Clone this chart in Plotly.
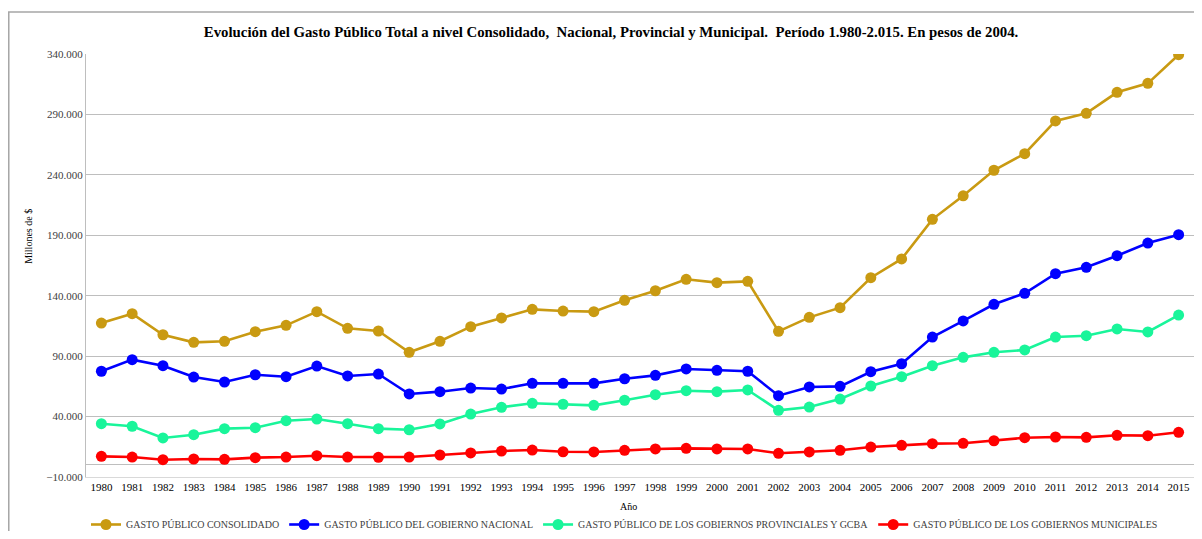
import plotly.graph_objects as go

# Años
Years = list(range(1980, 2016))

# Millones de $ (pesos de 2004)
Consolidado = [117400, 125100, 107700, 101400, 102300, 110200, 115500, 126800, 113000, 110800,
               93200, 102300, 114400, 121600, 128700, 127300, 126800, 136200, 144100, 153600,
               150800, 151900, 110500, 122100, 130100, 154900, 170400, 203200, 222700, 243800,
               257500, 284600, 290900, 308300, 315700, 339400]
Nacional = [77500, 87100, 82100, 72700, 68600, 74600, 73000, 81800, 73600, 75200,
            58700, 60600, 63600, 62800, 67500, 67500, 67500, 71300, 74100, 79400,
            78300, 77500, 57300, 64500, 65000, 77100, 83700, 105800, 119100, 132900,
            142000, 158200, 163500, 173100, 183600, 190500]
Provincial = [34100, 32000, 22300, 25000, 30000, 30800, 36600, 38000, 34100, 30000,
              29100, 33900, 42100, 47700, 51000, 50200, 49300, 53500, 58100, 61400,
              60600, 62000, 45200, 47900, 54500, 65300, 73000, 82100, 89000, 93200,
              95100, 105800, 106900, 112500, 110000, 124000]
Municipal = [7100, 6500, 4300, 4900, 4600, 6000, 6500, 7600, 6500, 6300,
             6500, 8200, 9900, 11500, 12300, 10900, 10700, 12100, 13200, 13700,
             13200, 13200, 9600, 10700, 12100, 14800, 16200, 17600, 17900, 20000,
             22500, 23100, 22800, 24500, 24200, 27000]

Names = ['GASTO PÚBLICO CONSOLIDADO',
         'GASTO PÚBLICO DEL GOBIERNO NACIONAL',
         'GASTO PÚBLICO DE LOS GOBIERNOS PROVINCIALES Y GCBA',
         'GASTO PÚBLICO DE LOS GOBIERNOS MUNICIPALES']
Colors = ['#C99A12', '#0000FF', '#19F59A', '#FF0000']

SERIF = 'Liberation Serif, Times New Roman, serif'

fig = go.Figure()
for vals, name, col in zip([Consolidado, Nacional, Provincial, Municipal], Names, Colors):
    fig.add_trace(go.Scatter(
        x=Years, y=vals, name=name, mode='lines+markers',
        line=dict(color=col, width=2.6),
        marker=dict(color=col, size=11)
    ))

# page body has an 8px margin, so the figure is sized to fit the window
fig.update_layout(
    width=1186, height=523,
    margin=dict(l=78, r=0, t=46, b=54, autoexpand=False),
    paper_bgcolor='white', plot_bgcolor='white',
    separators=',.',
    font=dict(family=SERIF, size=11, color='black'),
    title=dict(
        text='Evolución del Gasto Público Total a nivel Consolidado,  Nacional, Provincial y Municipal.  Período 1.980-2.015. En pesos de 2004.',
        font=dict(family=SERIF, size=14.8, color='black', weight='bold'),
        x=0.5085, xanchor='center', y=0.954, yanchor='middle'
    ),
    legend=dict(
        orientation='h', x=0.486, xanchor='center', y=-0.078, yanchor='top',
        font=dict(family=SERIF, size=10, color='#404040'),
        itemwidth=30, tracegroupgap=0
    ),
    showlegend=True,
)

fig.update_xaxes(
    range=[1979.5, 2015.5], tickmode='array', tickvals=Years,
    ticktext=[str(y) for y in Years], automargin=False,
    ticklabeloverflow='allow',
    showgrid=False, zeroline=False,
    showline=True, linecolor='#D9D9D9', linewidth=1,
    tickfont=dict(family=SERIF, size=11, color='black')
)
fig.update_yaxes(
    range=[-10000, 340000], tick0=-10000, dtick=50000,
    tickformat=',.0f', automargin=False,
    showgrid=True, gridcolor='#BEBEBE', gridwidth=1,
    zeroline=True, zerolinecolor='#BEBEBE', zerolinewidth=1,
    showline=True, linecolor='#BEBEBE', linewidth=1,
    ticks='', ticklen=0,
    tickfont=dict(family=SERIF, size=11, color='#404040')
)

# axis titles
fig.add_annotation(text='Año', xref='paper', yref='paper', x=0.49, y=-0.053,
                   xanchor='center', yanchor='top', showarrow=False,
                   font=dict(family=SERIF, size=10, color='black'))
fig.add_annotation(text='Millones de $', xref='paper', yref='paper', x=-0.0515, y=0.57,
                   xanchor='center', yanchor='middle', textangle=-90, showarrow=False,
                   font=dict(family=SERIF, size=10, color='black'))

# chart border
fig.add_shape(type='rect', xref='paper', yref='paper',
              x0=-0.0697, x1=1.05, y0=-0.2, y1=1.0993,
              line=dict(color='#A6A6A6', width=1.5), fillcolor='rgba(0,0,0,0)', layer='below')

fig.write_html("out.html")
